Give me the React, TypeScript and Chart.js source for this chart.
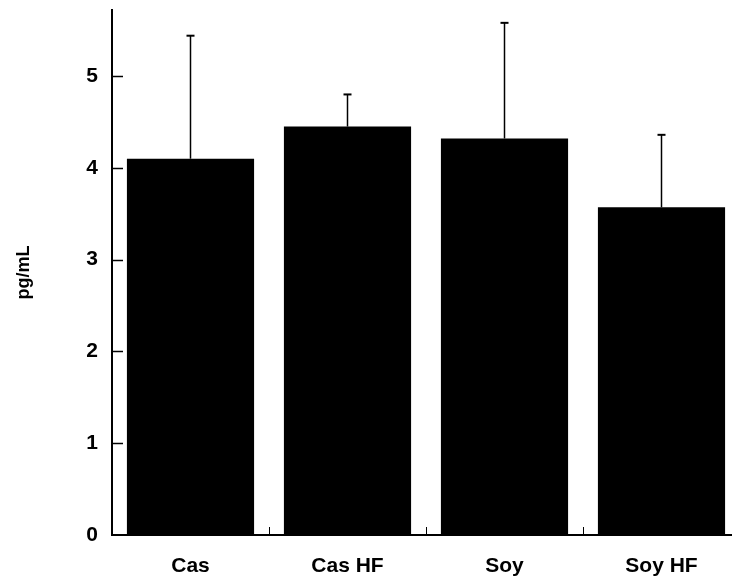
import React, { useEffect, useRef } from "react";
import { Chart, registerables } from "chart.js";

Chart.register(...registerables);

const categories = ["Cas", "Cas HF", "Soy", "Soy HF"];
const means = [4.1, 4.45, 4.32, 3.57];
const errorTops = [5.44, 4.8, 5.58, 4.36];
const yTicks = [0, 1, 2, 3, 4, 5];
const yMax = 5.72;
const yTitle = "pg/mL";

const FONT = "'Liberation Sans', Arial, Helvetica, sans-serif";

const extrasPlugin = {
  id: "extras",
  afterDatasetsDraw(chart: any) {
    const ctx = chart.ctx;
    const x = chart.scales.x;
    const y = chart.scales.y;
    ctx.save();
    ctx.strokeStyle = "#000";
    // error bars
    means.forEach((m, i) => {
      const px = x.getPixelForValue(i);
      const y0 = y.getPixelForValue(m);
      const y1 = y.getPixelForValue(errorTops[i]);
      ctx.lineWidth = 1.5;
      ctx.beginPath();
      ctx.moveTo(px, y0);
      ctx.lineTo(px, y1);
      ctx.stroke();
      ctx.lineWidth = 2;
      ctx.beginPath();
      ctx.moveTo(px - 4, y1);
      ctx.lineTo(px + 4, y1);
      ctx.stroke();
    });
    // y ticks inside
    const area = chart.chartArea;
    ctx.lineWidth = 1.5;
    yTicks.forEach((t) => {
      if (t === 0) return;
      const py = Math.round(y.getPixelForValue(t)) + 0.5;
      ctx.beginPath();
      ctx.moveTo(area.left, py);
      ctx.lineTo(area.left + 11, py);
      ctx.stroke();
    });
    // x ticks at category boundaries
    ctx.lineWidth = 1;
    for (let i = 0; i < categories.length - 1; i++) {
      const px = Math.round((x.getPixelForValue(i) + x.getPixelForValue(i + 1)) / 2) + 0.5;
      ctx.beginPath();
      ctx.moveTo(px, area.bottom);
      ctx.lineTo(px, area.bottom - 8);
      ctx.stroke();
    }
    ctx.restore();
  },
};

export default function App() {
  const ref = useRef<HTMLCanvasElement>(null);
  useEffect(() => {
    if (!ref.current) return;
    const chart = new Chart(ref.current, {
      type: "bar",
      data: {
        labels: categories,
        datasets: [
          {
            data: means,
            backgroundColor: "#000",
            borderWidth: 0,
            barPercentage: 0.81,
            categoryPercentage: 1,
          },
        ],
      },
      options: {
        responsive: false,
        animation: false,
        layout: { padding: { top: 10, right: 20, left: 0, bottom: 0 } },
        plugins: { legend: { display: false }, tooltip: { enabled: false } },
        scales: {
          x: {
            grid: { display: true, drawOnChartArea: false, drawTicks: false },
            border: { color: "#000", width: 2 },
            ticks: {
              color: "#000",
              font: { family: FONT, size: 21, weight: "bold" },
              padding: 19,
            },
            afterFit: (s: any) => {
              s.height = 42;
              s.paddingLeft = 0;
              s.paddingRight = 0;
            },
          },
          y: {
            min: 0,
            max: yMax,
            grid: { display: true, drawOnChartArea: false, drawTicks: false },
            border: { color: "#000", width: 2 },
            afterBuildTicks: (s: any) => {
              s.ticks = yTicks.map((v) => ({ value: v }));
            },
            ticks: {
              color: "#000",
              font: { family: FONT, size: 21, weight: "bold" },
              padding: 14,
            },
            title: {
              display: true,
              text: yTitle,
              color: "#000",
              font: { family: FONT, size: 18, weight: "bold" },
              padding: { top: 13, bottom: 0 },
            },
            afterFit: (s: any) => {
              s.width = 112;
              s.paddingTop = 0;
              s.paddingBottom = 0;
            },
          },
        },
      },
      plugins: [extrasPlugin],
    });
    return () => chart.destroy();
  }, []);
  return (
    <div
      style={{
        position: "absolute",
        left: 0,
        top: 0,
        width: 732,
        height: 577,
        overflow: "hidden",
        background: "#fff",
      }}
    >
      <canvas ref={ref} width={760} height={577} style={{ display: "block" }} />
    </div>
  );
}
